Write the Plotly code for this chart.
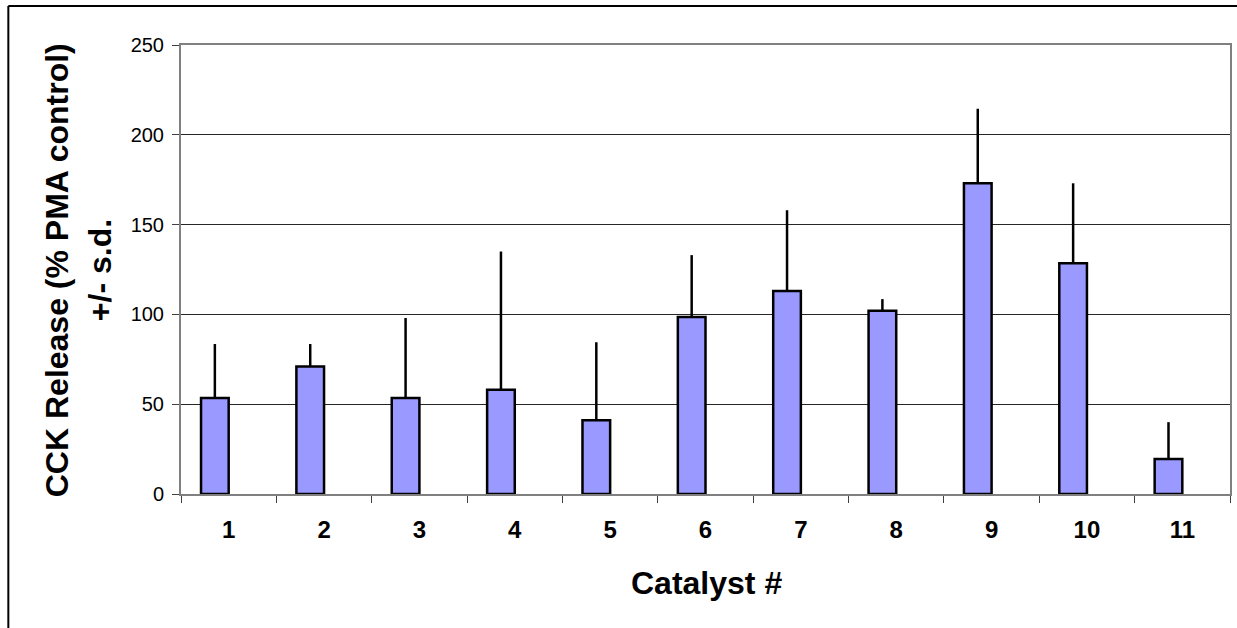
import plotly.graph_objects as go

# CCK release per catalyst (% of PMA control), mean and +s.d.
catalysts = [1, 2, 3, 4, 5, 6, 7, 8, 9, 10, 11]
tick_labels = [str(c) for c in catalysts]
release_mean = [53.5, 71, 53.5, 58, 41, 98.5, 113, 102, 173, 128.5, 19.5]
release_sd = [30, 12.5, 44.5, 77, 43.5, 34.5, 45, 6.5, 41.5, 44.5, 20.5]
y_ticks = [0, 50, 100, 150, 200, 250]

FONT = "Arial, Liberation Sans, sans-serif"
W, H = 1237, 628
L, R, T, B = 181, 5, 45, 134
PW, PH = W - L - R, H - T - B


def px_to_paper_x(px):
    return (px - L) / PW


def px_to_paper_y(py):
    return (H - B - py) / PH


fig = go.Figure()
fig.add_trace(go.Bar(
    x=catalysts,
    y=release_mean,
    offset=-0.29,
    width=0.29,
    marker=dict(color="#9999FF", line=dict(color="#000000", width=2.5)),
    error_y=dict(type="data", array=release_sd, arrayminus=[0] * len(release_sd),
                 symmetric=False, color="#000000", thickness=2.5, width=0),
    showlegend=False,
))

fig.update_layout(
    width=W, height=H,
    margin=dict(l=L, r=R, t=T, b=B),
    paper_bgcolor="#FFFFFF",
    plot_bgcolor="#FFFFFF",
    font=dict(family=FONT, color="#000000"),
    xaxis=dict(
        range=[0.5, 11.5],
        tickmode="array",
        tickvals=catalysts,
        ticktext=tick_labels,
        ticks="",
        tickfont=dict(size=24, family=FONT, weight="bold"),
        ticklabelstandoff=13,
        showgrid=False,
        zeroline=False,
        showline=True, linecolor="#808080", linewidth=2, mirror=True,
        minor=dict(tickvals=[c - 0.5 for c in catalysts] + [11.5],
                   ticks="outside", ticklen=7, tickcolor="#404040", tickwidth=1),
        fixedrange=True,
    ),
    yaxis=dict(
        range=[0, 250],
        tickmode="array",
        tickvals=y_ticks,
        ticks="outside", ticklen=7, tickcolor="#404040", tickwidth=1,
        tickfont=dict(size=20, family=FONT),
        ticklabelstandoff=4,
        showgrid=True, gridcolor="#262626", gridwidth=1,
        zeroline=False,
        showline=True, linecolor="#808080", linewidth=2, mirror=True,
        fixedrange=True,
    ),
    annotations=[
        dict(text="CCK Release (% PMA control)", textangle=-90,
             xref="paper", yref="paper",
             x=px_to_paper_x(57), y=px_to_paper_y(270),
             xanchor="center", yanchor="middle", showarrow=False,
             font=dict(size=32, family=FONT, weight="bold")),
        dict(text="+/- s.d.", textangle=-90,
             xref="paper", yref="paper",
             x=px_to_paper_x(100), y=px_to_paper_y(270),
             xanchor="center", yanchor="middle", showarrow=False,
             font=dict(size=32, family=FONT, weight="bold")),
        dict(text="Catalyst #",
             xref="paper", yref="paper",
             x=px_to_paper_x(708), y=px_to_paper_y(583),
             xanchor="center", yanchor="middle", showarrow=False,
             font=dict(size=32, family=FONT, weight="bold")),
    ],
    shapes=[
        # outer chart frame (left and top edges)
        dict(type="line", xref="paper", yref="paper",
             x0=px_to_paper_x(8), x1=px_to_paper_x(8),
             y0=px_to_paper_y(6), y1=px_to_paper_y(640),
             line=dict(color="#000000", width=2)),
        dict(type="line", xref="paper", yref="paper",
             x0=px_to_paper_x(8), x1=px_to_paper_x(1250),
             y0=px_to_paper_y(6), y1=px_to_paper_y(6),
             line=dict(color="#000000", width=2)),
    ],
)

fig.write_html("out.html")
